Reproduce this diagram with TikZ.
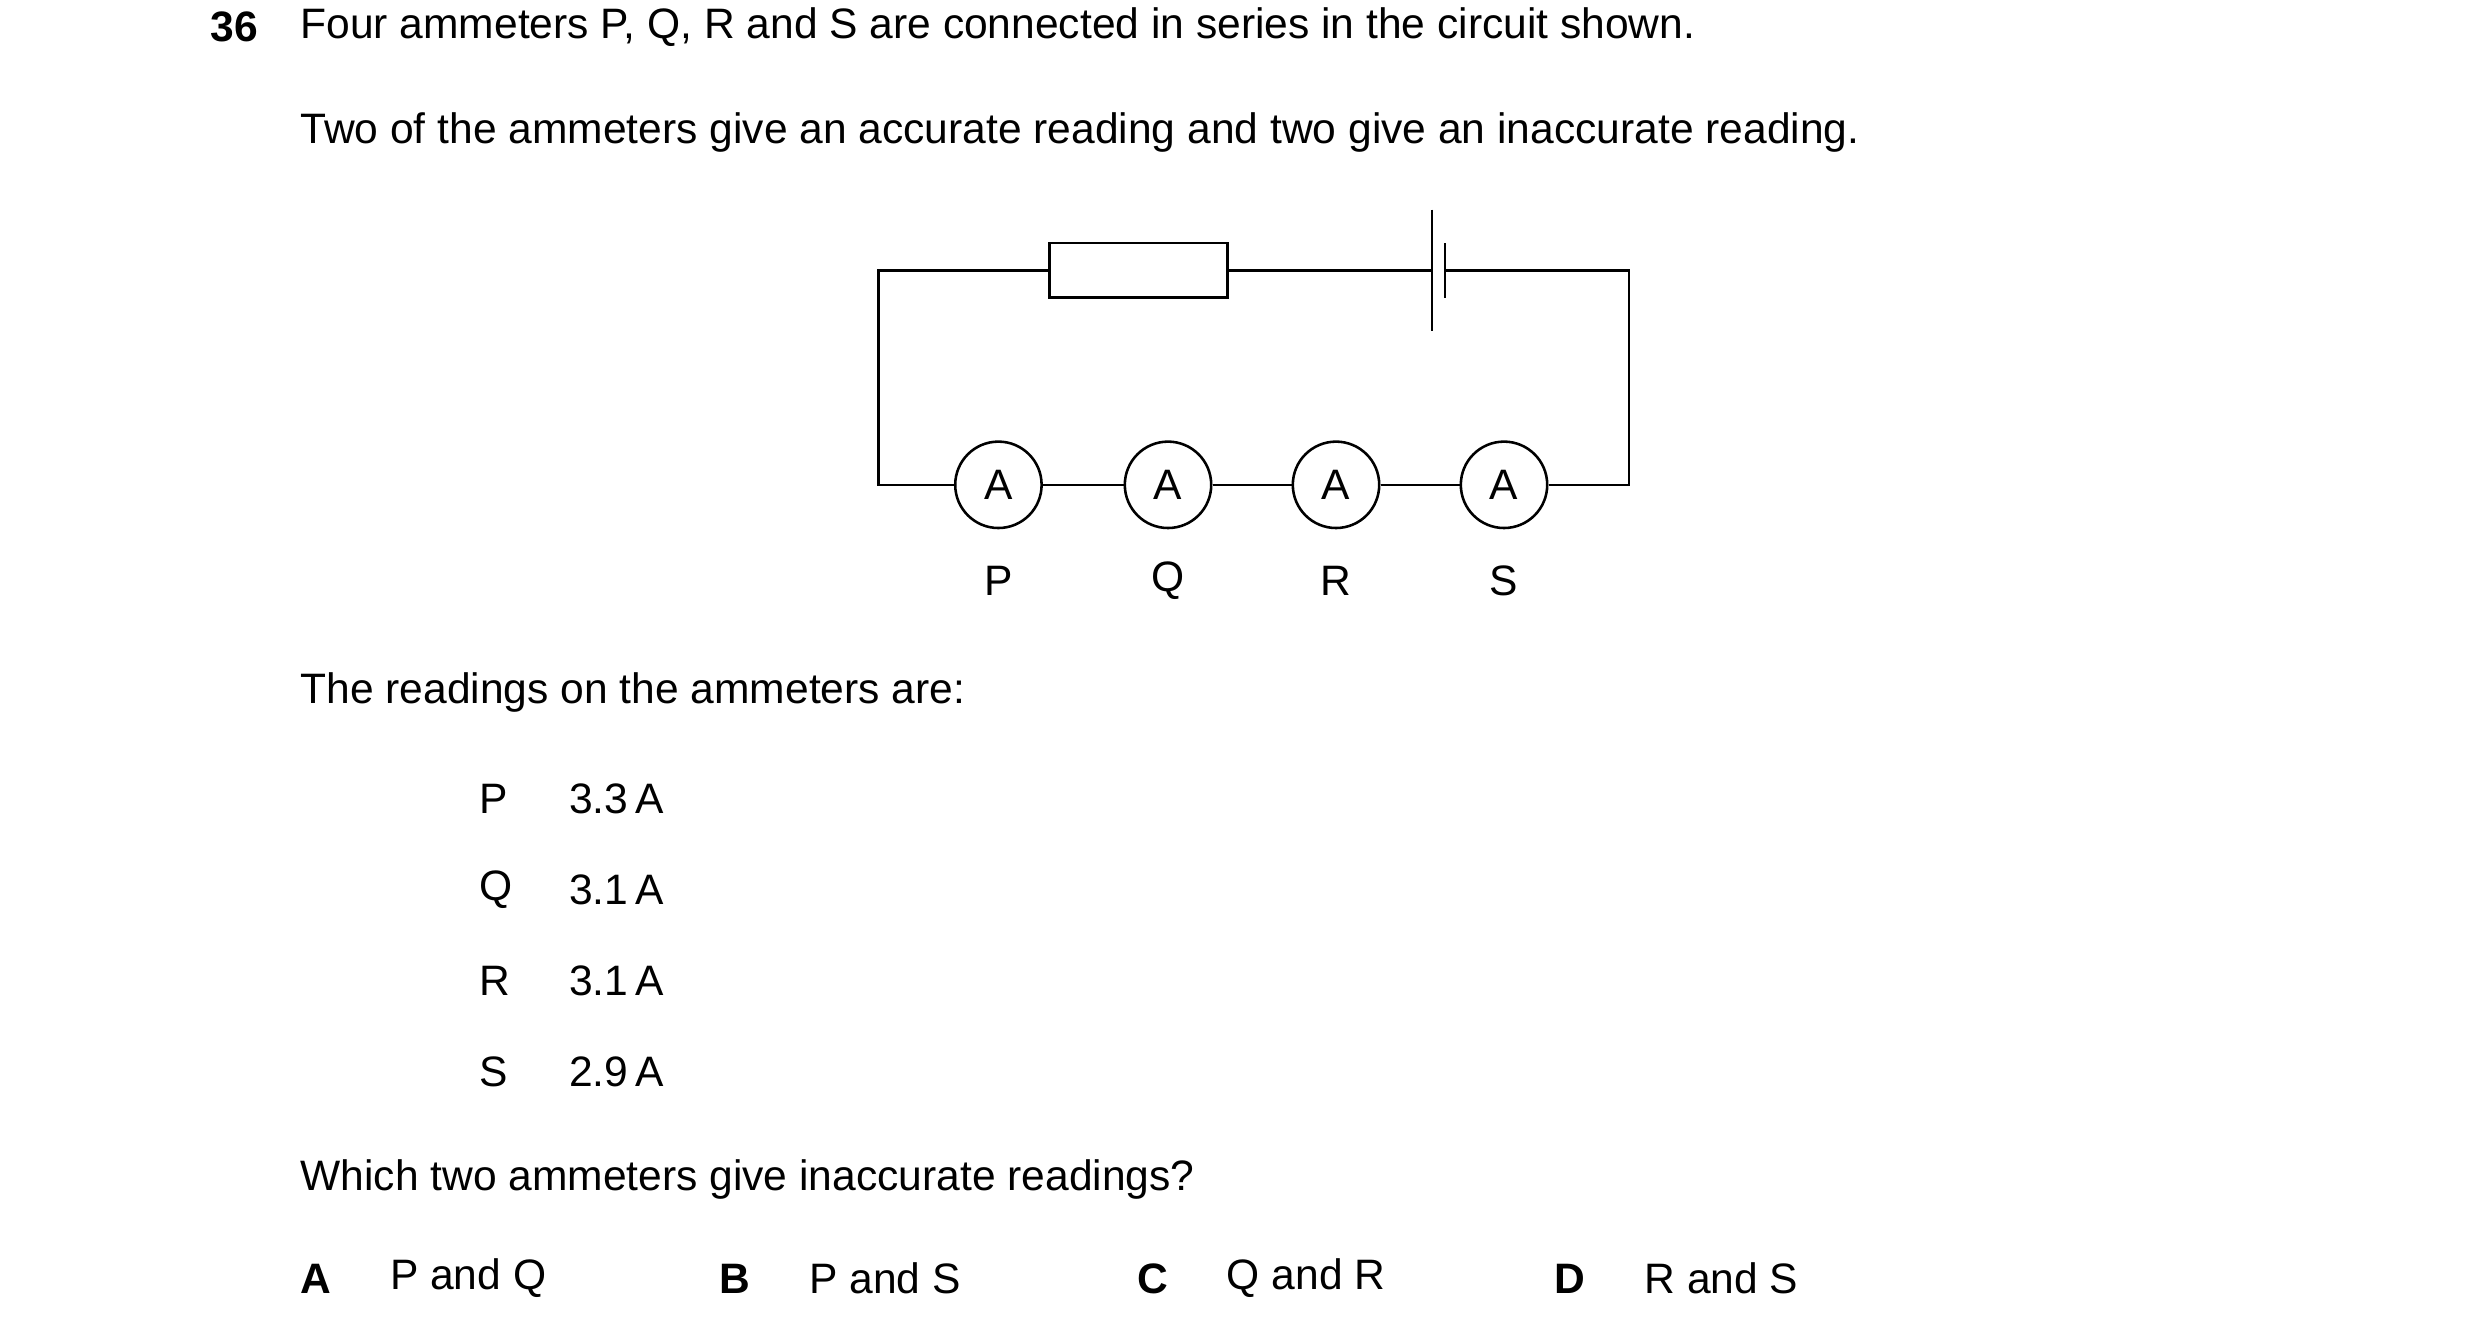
\documentclass[tikz,border=0pt]{standalone}
\usepackage{fontspec}
\setmainfont{Liberation Sans}
\begin{document}
\begin{tikzpicture}[x=0.5pt, y=-0.5pt, thick,
		txt/.style = {anchor=west, inner sep=0pt, font=\fontsize{13.3}{16}\selectfont},
		meter/.style = {draw, circle, minimum size=27pt, inner sep=0pt, fill=white, font=\fontsize{13.3}{16}\selectfont},
		lbl/.style = {inner sep=0pt, font=\fontsize{13.3}{16}\selectfont}]
		\useasboundingbox (0,0) rectangle (1550,826);
		% question text
		\node[txt, font=\fontsize{13.3}{16}\selectfont\bfseries] (num) at (131,17) {36};
		\node[txt] (q1) at (187,17) {Four ammeters P, Q, R and S are connected in series in the circuit shown.};
		\node[txt] (q2) at (187,83) {Two of the ammeters give an accurate reading and two give an inaccurate reading.};
		
		% circuit corners
		\coordinate (tl) at (549,169);
		\coordinate (tr) at (1018,169);
		\coordinate (bl) at (549,303);
		\coordinate (br) at (1018,303);
		\node[draw, minimum width=55.5pt, minimum height=17pt, inner sep=0pt] (res) at (711.5,169) {};
		\coordinate (bat1) at (895,169);
		\coordinate (bat2) at (903,169);
		\draw (bat1) ++(0,-38) -- ++(0,76);
		\draw (bat2) ++(0,-17) -- ++(0,34);
		
		\node[meter] (P) at (624,303) {A};
		\node[meter] (Q) at (730,303) {A};
		\node[meter] (R) at (835,303) {A};
		\node[meter] (S) at (940,303) {A};
		\node[lbl] (lP) at (624,363) {P};
		\node[lbl] (lQ) at (730,363) {Q};
		\node[lbl] (lR) at (835,363) {R};
		\node[lbl] (lS) at (940,363) {S};
		
		\draw (res.west) -- (tl) -- (bl) -- (P);
		\draw (P) -- (Q);
		\draw (Q) -- (R);
		\draw (R) -- (S);
		\draw (S) -- (br) -- (tr) -- (bat2);
		\draw (bat1) -- (res.east);
		
		% readings
		\node[txt] (q3) at (187,433) {The readings on the ammeters are:};
		\node[txt] (rP) at (299,499) {P};
		\node[txt] (vP) at (355,499) {3.3\,A};
		\node[txt] (rQ) at (299,556) {Q};
		\node[txt] (vQ) at (355,556) {3.1\,A};
		\node[txt] (rR) at (299,613) {R};
		\node[txt] (vR) at (355,613) {3.1\,A};
		\node[txt] (rS) at (299,670) {S};
		\node[txt] (vS) at (355,670) {2.9\,A};
		
		\node[txt] (q4) at (187,737) {Which two ammeters give inaccurate readings?};
		\node[txt, font=\fontsize{13.3}{16}\selectfont\bfseries] (oA) at (187,799) {A};
		\node[txt] (tA) at (243,799) {P and Q};
		\node[txt, font=\fontsize{13.3}{16}\selectfont\bfseries] (oB) at (449,799) {B};
		\node[txt] (tB) at (505,799) {P and S};
		\node[txt, font=\fontsize{13.3}{16}\selectfont\bfseries] (oC) at (710,799) {C};
		\node[txt] (tC) at (766,799) {Q and R};
		\node[txt, font=\fontsize{13.3}{16}\selectfont\bfseries] (oD) at (971,799) {D};
		\node[txt] (tD) at (1027,799) {R and S};
	\end{tikzpicture}
\end{document}
